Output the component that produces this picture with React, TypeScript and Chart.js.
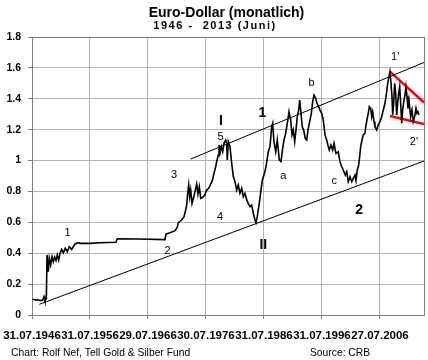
import { useEffect, useRef } from "react";
import { Chart, registerables } from "chart.js";

Chart.register(...registerables);

const FONT = "'Liberation Sans', Arial, Helvetica, sans-serif";

// Monthly Euro-Dollar (decimal year) and rate
const dates = [
  1946.70, 1947.15, 1947.61, 1948.08, 1948.42, 1948.65, 1948.82, 1949.05, 1949.17, 1949.39,
  1949.56, 1949.80, 1950.03, 1950.25, 1950.49, 1950.72, 1950.94, 1951.18, 1951.41, 1951.70,
  1951.98, 1952.32, 1952.67, 1953.01, 1953.42, 1953.99, 1954.56, 1954.86, 1956.58, 1958.30,
  1961.06, 1961.29, 1965.00, 1969.51, 1969.68, 1970.37, 1971.24, 1971.63, 1971.80, 1972.39,
  1972.79, 1973.08, 1973.25, 1973.43, 1973.60, 1973.77, 1973.94, 1974.17, 1974.46, 1974.74,
  1974.98, 1975.20, 1975.43, 1975.67, 1976.01, 1976.36, 1976.70, 1977.05, 1977.39, 1977.67,
  1977.96, 1978.25, 1978.42, 1978.70, 1978.82, 1978.99, 1979.22, 1979.46, 1979.68, 1979.98,
  1980.15, 1980.25, 1980.43, 1980.72, 1981.01, 1981.29, 1981.58, 1981.87, 1982.15, 1982.44,
  1982.74, 1983.01, 1983.30, 1983.60, 1983.87, 1984.17, 1984.46, 1984.74, 1985.03, 1985.20,
  1985.42, 1985.77, 1986.06, 1986.29, 1986.58, 1986.93, 1987.32, 1987.61, 1987.91, 1988.08,
  1988.30, 1988.60, 1988.87, 1989.22, 1989.51, 1989.80, 1990.03, 1990.32, 1990.60, 1990.89,
  1991.18, 1991.41, 1991.63, 1991.87, 1992.10, 1992.32, 1992.56, 1992.74, 1992.96, 1993.18,
  1993.42, 1993.70, 1993.94, 1994.17, 1994.46, 1994.74, 1994.98, 1995.20, 1995.49, 1995.72,
  1996.01, 1996.24, 1996.53, 1996.80, 1997.10, 1997.39, 1997.67, 1997.84, 1998.13, 1998.42,
  1998.65, 1998.99, 1999.39, 1999.68, 1999.98, 2000.25, 2000.60, 2000.84, 2001.11, 2001.41,
  2001.70, 2001.98, 2002.27, 2002.44, 2002.67, 2002.91, 2003.08, 2003.25, 2003.48, 2003.70,
  2003.99, 2004.17, 2004.39, 2004.56, 2004.74, 2004.98, 2005.15, 2005.32, 2005.55, 2005.72,
  2006.01, 2006.29, 2006.58, 2006.87, 2007.15, 2007.44, 2007.74, 2007.91, 2008.13, 2008.30,
  2008.48, 2008.65, 2008.77, 2008.94, 2009.11, 2009.29, 2009.46, 2009.63, 2009.80, 2009.98,
  2010.15, 2010.32, 2010.49, 2010.72, 2010.89, 2011.06, 2011.24, 2011.41, 2011.58, 2011.75,
  2011.87, 2012.10, 2012.32, 2012.56, 2012.79, 2012.96, 2013.13, 2013.30,
];

const rates = [
  0.102, 0.097, 0.099, 0.093, 0.097, 0.119, 0.093, 0.106, 0.389, 0.280,
  0.367, 0.324, 0.378, 0.345, 0.374, 0.352, 0.389, 0.356, 0.399, 0.425,
  0.403, 0.432, 0.410, 0.442, 0.425, 0.460, 0.468, 0.464, 0.464, 0.468,
  0.471, 0.494, 0.492, 0.488, 0.524, 0.533, 0.546, 0.568, 0.598, 0.615,
  0.637, 0.680, 0.712, 0.788, 0.842, 0.766, 0.809, 0.723, 0.762, 0.809,
  0.848, 0.783, 0.831, 0.756, 0.762, 0.777, 0.809, 0.820, 0.848, 0.870,
  0.917, 0.960, 0.993, 1.036, 1.101, 1.047, 1.090, 1.057, 1.112, 1.133,
  1.112, 1.004, 1.122, 1.090, 0.982, 0.896, 0.863, 0.809, 0.842, 0.788,
  0.820, 0.766, 0.788, 0.745, 0.723, 0.701, 0.712, 0.658, 0.615, 0.598,
  0.637, 0.723, 0.809, 0.874, 0.906, 0.960, 1.057, 1.090, 1.219, 1.241,
  1.122, 1.057, 1.133, 1.004, 0.993, 1.079, 1.133, 1.177, 1.241, 1.316,
  1.263, 1.166, 1.198, 1.122, 1.198, 1.284, 1.327, 1.392, 1.306, 1.219,
  1.198, 1.144, 1.133, 1.198, 1.252, 1.306, 1.381, 1.424, 1.403, 1.371,
  1.349, 1.327, 1.306, 1.263, 1.166, 1.133, 1.090, 1.068, 1.101, 1.068,
  1.112, 1.047, 1.057, 0.993, 0.960, 0.939, 0.906, 0.928, 0.863, 0.895,
  0.863, 0.885, 0.906, 0.870, 0.939, 0.971, 1.025, 1.090, 1.133, 1.166,
  1.177, 1.230, 1.274, 1.306, 1.349, 1.338, 1.284, 1.316, 1.252, 1.219,
  1.198, 1.230, 1.252, 1.284, 1.327, 1.371, 1.446, 1.500, 1.543, 1.575,
  1.500, 1.414, 1.295, 1.371, 1.500, 1.435, 1.295, 1.371, 1.435, 1.478,
  1.371, 1.241, 1.327, 1.392, 1.424, 1.478, 1.414, 1.338, 1.392, 1.327,
  1.284, 1.327, 1.252, 1.284, 1.338, 1.306, 1.316, 1.295,
];

const xMin = 1946.58;
const xMax = 2014.17;
const xTickYears = [1946.58, 1956.58, 1966.58, 1976.58, 1986.58, 1996.58, 2006.58];
const xTickLabels = ["31.07.1946", "31.07.1956", "29.07.1966", "30.07.1976", "31.07.1986", "31.07.1996", "27.07.2006"];
const yTickValues = [0, 0.2, 0.4, 0.6, 0.8, 1, 1.2, 1.4, 1.6, 1.8];
const yTickLabels = ["0", "0.2", "0.4", "0.6", "0.8", "1", "1.2", "1.4", "1.6", "1.8"];

// Trend channel and triangle lines (start/end in data units)
const lowerTrendYears = [1947.84, 2014.17];
const lowerTrendValues = [0.069, 0.997];
const upperTrendYears = [1973.94, 2014.17];
const upperTrendValues = [1.010, 1.635];
const redUpperYears = [2008.30, 2014.17];
const redUpperValues = [1.576, 1.376];
const redLowerYears = [2008.30, 2014.17];
const redLowerValues = [1.289, 1.237];

// Elliott wave labels
const waveLabels = ["1", "2", "3", "4", "5", "I", "1", "II", "a", "b", "c", "2", "1'", "2'"];
const waveYears = [1952.7, 1969.97, 1971.06, 1978.99, 1979.1, 1979.17, 1986.3, 1986.46, 1989.9, 1994.8, 1998.7, 2003.0, 2009.2, 2012.44];
const waveValues = [0.531, 0.414, 0.907, 0.637, 1.151, 1.252, 1.306, 0.453, 0.902, 1.5, 0.87, 0.68, 1.669, 1.122];
const waveDegree = ["minor", "minor", "minor", "minor", "minor", "major", "major", "major", "minor", "minor", "minor", "major", "minor", "minor"];

const titleText = "Euro-Dollar (monatlich)";
const subtitleText = "1946 -  2013 (Juni)";
const creditText = "Chart: Rolf Nef, Tell Gold & Silber Fund";
const sourceText = "Source: CRB";

const pts = (xs: number[], ys: number[]) => xs.map((x, i) => ({ x, y: ys[i] }));

const framePlugin = {
  id: "frame",
  beforeDatasetsDraw(chart: any) {
    const { ctx, chartArea: a } = chart;
    ctx.save();
    ctx.strokeStyle = "#808080";
    ctx.lineWidth = 1;
    ctx.strokeRect(Math.round(a.left) + 0.5, Math.round(a.top) + 0.5, Math.round(a.right - a.left), Math.round(a.bottom - a.top));
    ctx.restore();
  },
};

const textPlugin = {
  id: "texts",
  afterDraw(chart: any) {
    const { ctx } = chart;
    const xs = chart.scales.x;
    const ys = chart.scales.y;
    ctx.save();
    ctx.fillStyle = "#000";
    ctx.textBaseline = "middle";
    ctx.textAlign = "center";
    waveLabels.forEach((t, i) => {
      ctx.font = waveDegree[i] === "major" ? `bold 14px ${FONT}` : `11px ${FONT}`;
      ctx.fillText(t, xs.getPixelForValue(waveYears[i]), ys.getPixelForValue(waveValues[i]));
    });
    ctx.font = `bold 14px ${FONT}`;
    ctx.fillText(titleText, 226.5, 13);
    ctx.font = `bold 11px ${FONT}`;
    (ctx as any).letterSpacing = "1.5px";
    ctx.fillText(subtitleText, 215, 26);
    (ctx as any).letterSpacing = "0px";
    ctx.textAlign = "left";
    ctx.font = `10.3px ${FONT}`;
    ctx.fillText(creditText, 11, 353);
    ctx.fillText(sourceText, 310, 353);
    ctx.restore();
  },
};

export default function App() {
  const ref = useRef<HTMLCanvasElement | null>(null);
  useEffect(() => {
    if (!ref.current) return;
    const chart = new Chart(ref.current, {
      type: "line",
      data: {
        datasets: [
          { data: pts(dates, rates), borderColor: "#000", borderWidth: 1.6, pointRadius: 0, tension: 0 },
          { data: pts(lowerTrendYears, lowerTrendValues), borderColor: "#000", borderWidth: 1, pointRadius: 0 },
          { data: pts(upperTrendYears, upperTrendValues), borderColor: "#000", borderWidth: 1, pointRadius: 0 },
          { data: pts(redUpperYears, redUpperValues), borderColor: "#ff0000", borderWidth: 2.5, pointRadius: 0 },
          { data: pts(redLowerYears, redLowerValues), borderColor: "#ff0000", borderWidth: 2.5, pointRadius: 0 },
        ],
      },
      options: {
        responsive: false,
        animation: false,
        devicePixelRatio: 1,
        layout: { padding: { top: 37, right: 4, left: 0, bottom: 0 } },
        plugins: { legend: { display: false }, tooltip: { enabled: false }, title: { display: false } },
        scales: {
          x: {
            type: "linear",
            min: xMin,
            max: xMax,
            afterBuildTicks: (s: any) => { s.ticks = xTickYears.map((v) => ({ value: v })); },
            afterFit: (s: any) => { s.height = 45; s.paddingLeft = 0; s.paddingRight = 0; },
            ticks: {
              autoSkip: false,
              maxRotation: 0,
              minRotation: 0,
              padding: 10,
              color: "#000",
              font: { family: FONT, size: 11.5, weight: "bold" },
              callback: (_v: any, i: number) => xTickLabels[i],
            },
            grid: { color: "#b4b4b4", tickLength: 4, tickColor: "#808080", lineWidth: 1 },
            border: { color: "#808080" },
          },
          y: {
            min: 0,
            max: 1.8,
            afterBuildTicks: (s: any) => { s.ticks = yTickValues.map((v) => ({ value: v })); },
            afterFit: (s: any) => { s.width = 32; s.paddingTop = 0; s.paddingBottom = 0; },
            ticks: {
              padding: 7,
              color: "#000",
              font: { family: FONT, size: 10.5, weight: "bold" },
              callback: (_v: any, i: number) => yTickLabels[i],
            },
            grid: { color: "#b4b4b4", tickLength: 4, tickColor: "#808080", lineWidth: 1 },
            border: { color: "#808080" },
          },
        },
      } as any,
      plugins: [framePlugin, textPlugin],
    });
    return () => chart.destroy();
  }, []);
  return (
    <div style={{ position: "fixed", left: 0, top: 0, width: 428, height: 360, background: "#fff" }}>
      <canvas ref={ref} width={428} height={360} style={{ display: "block" }} />
    </div>
  );
}
